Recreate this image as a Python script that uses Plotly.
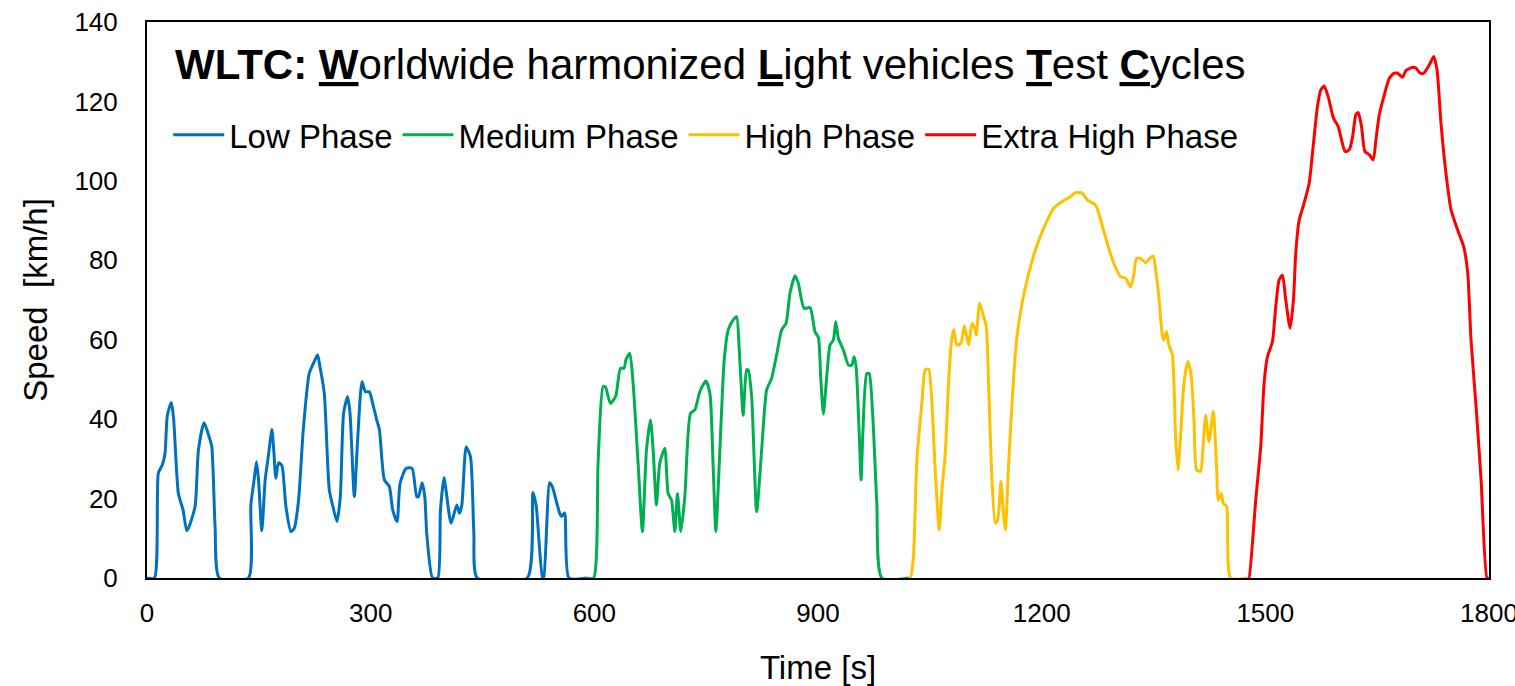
import plotly.graph_objects as go

# ---- data ----
low_t = [0, 10, 15.2, 20.6, 24.2, 27.3, 32.7, 35.8, 42.1, 48.4, 53.3, 56.4, 64.5, 69, 76.6, 83.3, 86.9, 91.3, 97,
         136, 139.3, 143.7, 146.9, 149.6, 154, 158.5, 163, 167.5, 170, 172.8, 176.4, 180.9, 186.3, 193, 197.5, 203.3,
         209.6, 217.6, 224.3, 228.8, 232, 237.8, 244.5, 249.9, 254.8, 259.3, 263.7, 269.1, 272.3, 278.1, 282.5, 288.4,
         292.9, 298.2, 302.7, 308.1, 311.7, 318.4, 325.1, 329.6, 335.4, 339.4, 347.5, 355.5, 361.8, 364.1, 369, 372.6,
         375.2, 383, 390, 393.6, 398.5, 401, 407.9, 415.5, 419.1, 422.3, 428.1, 433.9, 438.4, 443,
         510, 517.6, 522.1, 530.5, 532, 540, 543.6, 553.5, 556, 560.2, 566, 589]
low_v = [0, 0, 26.4, 28.5, 31.4, 41.0, 44.2, 39.8, 21.3, 17.1, 11.9, 12.9, 18.0, 32.2, 39.1, 35.6, 33.1, 12.9, 0,
         0, 18.4, 24.7, 29.3, 24.7, 11.9, 24.7, 31.0, 37.4, 32.2, 25.1, 29.0, 28.3, 18.0, 11.7, 12.5, 19.6,
         37.3, 51.5, 54.5, 56.2, 53.2, 46.5, 22.2, 17.6, 14.2, 20.5, 41.5, 45.7, 41.5, 20.5, 34.8, 49.4,
         46.9, 46.9, 44.0, 39.8, 37.4, 24.7, 23.0, 17.1, 14.2, 23.8, 27.6, 27.6, 20.5, 20.5, 24.0, 20.5,
         11.3, 0, 0, 17.1, 25.3, 22.2, 13.8, 18.4, 16.3, 18.4, 33.0, 30.5, 11.3, 0,
         0, 21.5, 18.0, 0, 0, 24.0, 23.0, 16.3, 15.5, 16.4, 0, 0]

med_t = [589, 599, 605, 611.7, 614.9, 621.5, 628.7, 635, 639.9, 642.2, 647.5, 652, 658.7, 664.5, 669.9, 675.3, 678.9,
         683.3, 687.8, 694.5, 699, 703.5, 708, 711.5, 716, 721.4, 729, 734.8, 741.5, 749.6, 755, 759.4, 763, 768.4,
         774.2, 779.6, 786.3, 790.8, 794.4, 799.7, 804.2, 806.4, 811, 817.7, 824.4, 831.1, 837.8, 844.5, 851.3, 857.1,
         862.4, 869.2, 873.6, 881.3, 889.3, 896, 900.5, 903.6, 907.2, 911.7, 916.2, 920.6, 923.8, 927.4, 934.1, 940.8,
         945.3, 948.4, 951.1, 955.6, 957.8, 960, 965.4, 968.6, 973.5, 978.9, 985.6, 1022]
med_v = [0, 0, 28.9, 48.2, 48.1, 44.0, 45.8, 52.8, 52.8, 54.9, 56.6, 49.0, 28.9, 11.7, 32.2, 39.8, 32.2,
         18.4, 28.9, 32.7, 21.3, 19.6, 11.7, 21.3, 11.7, 20.5, 41.5, 42.3, 46.9, 49.6, 46.5, 28.0, 11.7, 32.2,
         54.9, 62.5, 65.0, 65.8, 57.4, 41.0, 52.4, 52.4, 45.7, 16.7, 32.2, 47.3, 50.3, 56.2, 62.5, 64.1,
         71.7, 76.1, 74.2, 67.9, 68.1, 62.0, 60.6, 50.7, 41.3, 50.7, 58.7, 59.9, 64.5, 60.3, 57.4, 53.6,
         53.6, 55.7, 53.2, 34.8, 24.7, 35.6, 51.5, 51.5, 40.6, 18.8, 0, 0]

high_t = [1022, 1024, 1028, 1032.6, 1039.3, 1043.8, 1048.3, 1052.8, 1057.2, 1062.6, 1066.2, 1070.7, 1075.1, 1078.7,
          1081.9, 1086.3, 1091.7, 1096.2, 1102, 1106.5, 1109.6, 1112.3, 1116.8, 1122.2, 1125.7, 1128.9, 1133.4,
          1137.8, 1141, 1145.4, 1147.7, 1151.3, 1155.7, 1161.6, 1166.9, 1173.7, 1180.4, 1191.6, 1202.7, 1216.2,
          1227.4, 1238.6, 1245.3, 1254.3, 1261, 1272.2, 1276.6, 1287.9, 1296.8, 1305.8, 1312.5, 1319.2, 1323.7,
          1327.2, 1332.6, 1339.3, 1345.2, 1349.6, 1354.1, 1357.2, 1363.1, 1367.5, 1370.6, 1375.2, 1379.6, 1382.8,
          1386.3, 1390.8, 1396.2, 1400.7, 1404.3, 1407.9, 1413.2, 1415.9, 1419.9, 1424.4, 1430.2, 1434.7, 1436.9,
          1441, 1443.6, 1448.2, 1453.5, 1477]
high_v = [0, 0, 5.4, 29.7, 44.0, 52.4, 52.6, 44.0, 27.2, 12.1, 22.2, 31.4, 49.0, 59.1,
          62.6, 58.7, 59.1, 63.5, 58.7, 64.1, 63.3, 61.2, 69.2, 65.8, 63.3, 48.2, 24.7,
          13.8, 14.6, 24.3, 19.0, 12.1, 28.9, 48.2, 60.8, 69.2, 75.0, 82.6, 88.1, 93.1,
          94.8, 96.0, 97.0, 96.9, 95.2, 93.9, 91.8, 84.3, 79.2, 75.9, 75.5, 73.2, 76.5,
          80.5, 80.5, 79.4, 80.5, 81.1, 75.9, 70.8, 59.9, 62.0, 58.7, 56.4, 35.6, 27.2,
          35.6, 49.0, 54.5, 50.7, 39.8, 27.2, 26.9, 31.6, 41.0, 34.3, 41.9, 27.2, 19.6,
          21.3, 18.8, 18.0, 0, 0]

xhigh_t = [1477, 1478, 1487.1, 1493.8, 1498.3, 1502.8, 1509.5, 1514, 1518.4, 1522.9, 1527.4, 1533.2, 1537.7, 1540.8,
           1545.3, 1552, 1558.8, 1563.2, 1569.9, 1574.4, 1578.9, 1584.3, 1591.4, 1597.7, 1602.2, 1607.1, 1612.5,
           1617, 1621.4, 1624.6, 1629, 1633.5, 1639.3, 1644.7, 1648.3, 1652.8, 1659.5, 1666.2, 1672.9, 1677.4,
           1684.1, 1688.6, 1697.6, 1702, 1707.9, 1712.4, 1719.9, 1725.8, 1730.3, 1735.6, 1742.3, 1749.1, 1758,
           1766.1, 1771.5, 1775.9, 1782.7, 1789.4, 1797.4, 1800]
xhigh_v = [0, 0, 19.6, 33.0, 49.0, 55.7, 59.5, 68.3, 75.0, 76.3, 70.0, 62.9, 70.0, 81.8,
           90.0, 94.4, 99.4, 106.9, 118.7, 122.9, 123.9, 121.2, 115.8, 113.7, 110.3, 107.4, 107.8,
           111.1, 116.6, 117.2, 113.7, 107.4, 106.6, 105.3, 110.3, 116.6, 121.6, 125.8, 127.1, 127.1,
           126.1, 127.8, 128.6, 128.4, 127.1, 127.1, 129.2, 131.3, 127.9, 114.5, 101.9, 92.7, 87.6,
           83.4, 76.7, 59.9, 43.1, 24.7, 0, 0]

phase_names = ["Low Phase", "Medium Phase", "High Phase", "Extra High Phase"]
phase_colors = ["#0070C0", "#00B050", "#FFC000", "#FF0000"]
phase_t = [low_t, med_t, high_t, xhigh_t]
phase_v = [low_v, med_v, high_v, xhigh_v]

x_ticks = [0, 300, 600, 900, 1200, 1500, 1800]
y_ticks = [0, 20, 40, 60, 80, 100, 120, 140]

FONT = "Liberation Sans, Arial, sans-serif"

fig = go.Figure()
for name, col, t, v in zip(phase_names, phase_colors, phase_t, phase_v):
    fig.add_trace(go.Scatter(x=t, y=v, mode="lines", name=name,
                             line=dict(color=col, width=3, shape="spline", smoothing=0.6)))

fig.update_layout(
    width=1515, height=686,
    margin=dict(l=147, r=26, t=22, b=108, autoexpand=False),
    paper_bgcolor="white", plot_bgcolor="white",
    font=dict(family=FONT, color="black"),
    showlegend=True,
    legend=dict(orientation="h", x=0.0158, y=0.797, xanchor="left", yanchor="middle",
                font=dict(size=33, family=FONT, color="black"), bgcolor="rgba(0,0,0,0)",
                itemwidth=51, tracegroupgap=0),
    annotations=[dict(
        text="<b>WLTC:</b> <b><u>W</u></b>orldwide harmonized <b><u>L</u></b>ight vehicles "
             "<b><u>T</u></b>est <b><u>C</u></b>ycles",
        x=0.42, y=0.924, xref="paper", yref="paper", xanchor="center", yanchor="middle",
        showarrow=False, font=dict(size=42, family=FONT, color="black"))],
)
fig.update_xaxes(range=[0, 1800], tickvals=x_ticks, showgrid=False, zeroline=False, automargin=False,
                 showline=True, mirror=True, linecolor="black", linewidth=2,
                 tickfont=dict(size=26, family=FONT), ticklabelstandoff=11, ticklabeloverflow="allow",
                 title=dict(text="Time [s]", font=dict(size=33, family=FONT), standoff=29))
fig.update_yaxes(range=[0, 140], tickvals=y_ticks, showgrid=False, zeroline=False, automargin=False,
                 showline=True, mirror=True, linecolor="black", linewidth=2,
                 tickfont=dict(size=26, family=FONT), ticklabelstandoff=22, ticklabeloverflow="allow",
                 title=dict(text="Speed  [km/h]", font=dict(size=33, family=FONT), standoff=17))

# remove the default 8 px page margin so the figure fills the window exactly
fig.write_html("out.html", config={"displayModeBar": False},
               post_script="document.body.style.margin='0';document.body.style.overflow='hidden';")
